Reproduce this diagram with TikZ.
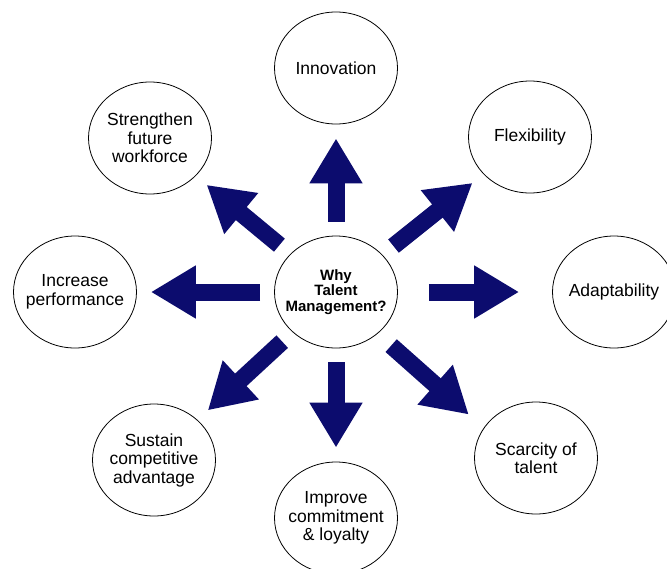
\documentclass[tikz,border=0pt]{standalone}
\usepackage{fontspec}
\setmainfont{Liberation Sans}
\usetikzlibrary{shapes.geometric,arrows.meta}
\definecolor{arrownavy}{RGB}{12,12,110}
\begin{document}
\begin{tikzpicture}[x=1pt,y=-1pt,
    bubble/.style={draw=black, line width=0.8pt, ellipse, minimum width=123pt, minimum height=112pt,
      inner xsep=-8pt, inner ysep=0pt, align=center, font=\fontsize{17.5}{18.5}\selectfont},
    hub/.style={bubble, font=\fontsize{15}{15.5}\selectfont\bfseries},
    bigarrow/.style={draw=arrownavy, line width=17pt, -{Triangle[width=50pt,length=45pt]},
      shorten <=14pt, shorten >=14pt}]
  \useasboundingbox (0,0) rectangle (667,568);
  % centre
  \node[hub] (why) at (336,292) {Why\\Talent\\Management?};
  % outer ring
  \node[bubble] (innov)   at (336,68)  {Innovation};
  \node[bubble] (flex)    at (530,137) {Flexibility};
  \node[bubble] (adapt)   at (614,292) {Adaptability};
  \node[bubble] (scarce)  at (536,458) {Scarcity of\\talent};
  \node[bubble] (commit)  at (336,518) {Improve\\commitment\\\& loyalty};
  \node[bubble] (sustain) at (154,460) {Sustain\\competitive\\advantage};
  \node[bubble] (perf)    at (75,292)  {Increase\\performance};
  \node[bubble] (future)  at (150,138) {Strengthen\\future\\workforce};
  % arrows
  \draw[bigarrow] (why) -- (innov);
  \draw[bigarrow] (why) -- (flex);
  \draw[bigarrow, shorten <=31pt, shorten >=33pt] (why) -- (adapt);
  \draw[bigarrow, shorten <=18pt, shorten >=20pt] (why.-45) -- (scarce.150);
  \draw[bigarrow] (why) -- (commit);
  \draw[bigarrow] (why) -- (sustain);
  \draw[bigarrow] (why) -- (perf);
  \draw[bigarrow] (why) -- (future);
\end{tikzpicture}
\end{document}
